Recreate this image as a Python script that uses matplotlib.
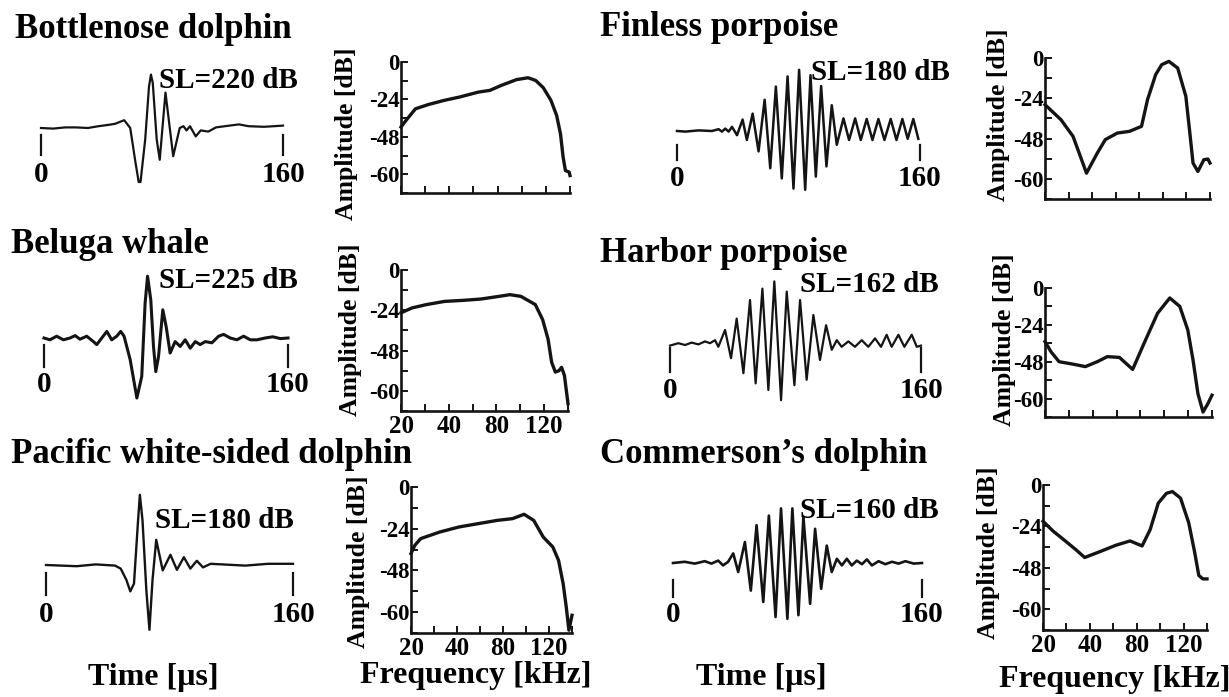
import numpy as np
import matplotlib
matplotlib.use("Agg")
import matplotlib.pyplot as plt
from matplotlib.ticker import FixedLocator, FuncFormatter

plt.rcParams["font.family"] = ["Liberation Serif", "DejaVu Serif"]
plt.rcParams["font.weight"] = "bold"
plt.rcParams["axes.unicode_minus"] = False

# ---------------------------------------------------------------- data
species = ["Bottlenose dolphin", "Beluga whale", "Pacific white-sided dolphin",
           "Finless porpoise", "Harbor porpoise", "Commerson\u2019s dolphin"]
source_levels = [220, 225, 180, 180, 162, 160]   # dB

# click waveforms: time [us], relative pressure
bottlenose_t = [0, 8, 16, 23, 31, 38, 44, 49, 55, 59, 62.5, 64.6, 65.8, 68.9, 71.4, 72.7,
                73.9, 76.5, 78.5, 82.3, 87.4, 91.7, 94.2, 96.2, 98.5, 102.3, 105.6, 110.6,
                115.7, 124.6, 130.9, 137.2, 147.4, 154, 160]
bottlenose_amp = [0, -0.01, 0.01, 0.01, 0, 0.03, 0.05, 0.07, 0.13, 0, -0.58, -0.9, -0.9,
                  -0.19, 0.69, 0.89, 0.75, -0.19, -0.53, 0.59, -0.47, 0, 0.03, -0.04, 0.03,
                  -0.14, -0.04, -0.06, 0.01, 0.04, 0.06, 0.03, 0.02, 0.03, 0.04]

beluga_t = [0, 3.9, 8.3, 12.7, 17.1, 20.4, 23.6, 28.0, 32.4, 34.6, 37.9, 41.2, 44.4, 47.7,
            50.3, 52.5, 56.5, 60.9, 64.1, 66.3, 67.9, 70.0, 71.8, 73.3, 75.1, 77.9, 80.1,
            82.7, 86.0, 89.3, 92.6, 95.9, 99.2, 102.4, 105.7, 110.1, 114.5, 117.8, 122.1,
            126.5, 130.9, 135.3, 139.7, 145, 150, 155, 160]
beluga_amp = [0, -0.03, 0.03, -0.03, 0, 0.04, -0.02, 0.03, -0.06, -0.11, 0, 0.11, -0.03,
              0.03, 0.11, 0.03, -0.36, -1.0, -0.64, 0.58, 1.03, 0.64, -0.14, -0.56, -0.31,
              0.47, 0.19, -0.25, -0.06, -0.14, -0.03, -0.17, -0.06, -0.11, -0.06, -0.08,
              0.03, 0.06, 0, -0.03, 0.03, -0.03, -0.03, 0, 0.02, -0.01, 0]

pacific_t = [0, 19.8, 32.2, 44.7, 48.4, 52.1, 54.6, 57.0, 59.5, 60.8, 62.5, 65.0, 67.0,
             69.0, 71.4, 75.6, 80.6, 84.8, 89.3, 93.5, 97.7, 101.7, 106.6, 114.1, 129.0,
             143.9, 160]
pacific_amp = [0, -0.02, 0.01, -0.01, -0.06, -0.25, -0.44, -0.31, 0.69, 1.17, 0.75, -0.42,
               -1.08, -0.25, 0.42, -0.09, 0.17, -0.08, 0.13, -0.06, 0.07, -0.04, 0.02,
               0.01, -0.01, 0.02, 0.02]

finless_t = [0, 5.5, 14.2, 23.0, 27.4, 29.6, 31.8, 34.0, 36.2, 39.5, 43.2, 46.0, 49.8,
             53.7, 57.7, 61.4, 65.1, 69.0, 72.8, 76.7, 80.4, 84.4, 87.9, 91.4, 94.9, 98.4,
             101.9, 105.2, 109.6, 113.3, 117.3, 121.0, 124.9, 128.7, 132.6, 136.6, 140.7,
             144.5, 148.4, 151.9, 155.6, 158.9]
finless_amp = [0, -0.01, 0.01, 0, 0.03, -0.01, 0.04, -0.01, 0.07, -0.07, 0.19, -0.15, 0.29,
               -0.34, 0.52, -0.62, 0.74, -0.79, 0.91, -0.96, 1.02, -0.98, 0.93, -0.76, 0.75,
               -0.59, 0.43, -0.23, 0.21, -0.15, 0.21, -0.15, 0.2, -0.15, 0.2, -0.15, 0.2,
               -0.15, 0.2, -0.13, 0.2, -0.13]

harbor_t = [0, 5.3, 9.6, 13.8, 18.1, 22.3, 25.5, 28.7, 30.8, 35.1, 38.9, 42.5, 46.8, 51.0,
            54.6, 58.9, 62.7, 66.5, 70.8, 74.4, 79.3, 82.9, 87.1, 91.4, 95.6, 99.5, 103.1,
            106.3, 109.4, 113.7, 117.9, 122.2, 126.4, 130.7, 134.5, 138.1, 141.3, 145.6,
            149.4, 154.1, 157.3, 160]
harbor_amp = [-0.01, 0.03, 0, 0.04, 0.01, 0.06, 0.03, 0.08, -0.03, 0.25, -0.22, 0.44,
              -0.47, 0.75, -0.64, 0.94, -0.75, 1.06, -0.92, 0.89, -0.67, 0.75, -0.58, 0.5,
              -0.25, 0.33, -0.08, 0.08, -0.03, 0.06, -0.03, 0.08, -0.03, 0.11, -0.03, 0.17,
              -0.03, 0.17, -0.03, 0.17, -0.03, -0.01]

commerson_t = [0, 7.5, 14.0, 20.4, 24.7, 29.0, 32.2, 35.4, 38.7, 41.9, 46.2, 50.0, 53.7,
               58.0, 61.6, 65.9, 69.4, 73.5, 76.7, 80.6, 83.8, 88.1, 91.3, 95.2, 98.8,
               102.0, 105.3, 108.5, 111.7, 114.9, 118.1, 121.4, 124.6, 127.8, 132.1, 136.4,
               140.7, 145.0, 149.3, 154.7, 160]
commerson_amp = [0, 0.02, -0.01, 0.03, -0.01, 0.04, -0.04, 0.02, 0.16, -0.15, 0.35, -0.46,
                 0.63, -0.65, 0.79, -0.9, 0.91, -0.93, 0.91, -0.87, 0.77, -0.68, 0.57,
                 -0.43, 0.29, -0.15, 0.07, -0.04, 0.07, -0.04, 0.04, -0.02, 0.06, -0.04,
                 0.03, -0.02, 0.02, -0.01, 0.03, -0.01, 0]

# power spectra: frequency [kHz], amplitude [dB]
bottlenose_khz = [20, 22.1, 26.0, 31.5, 37.9, 48.3, 64.1, 73.6, 83.1, 95.7, 105.2, 111.5,
                  117.9, 124.2, 128.9, 132.1, 134.3, 136.2, 139.3, 140]
bottlenose_db = [-41.7, -37.4, -30.0, -27.2, -24.6, -22.5, -19.3, -18.2, -15.0, -11.3,
                 -10.1, -11.8, -16.5, -24.6, -34.2, -46.0, -54.5, -58.8, -59.3, -60.4]

beluga_khz = [20, 24.6, 30.7, 38.3, 51.8, 67.0, 82.2, 91.3, 100.5, 112.6, 118.7, 123.3,
              126.3, 129.4, 132.4, 134.6, 137.0, 139.1, 140]
beluga_db = [-25.5, -22.6, -20.6, -18.7, -18.1, -17.3, -15.7, -14.7, -15.7, -20.6, -29.5,
             -41.2, -51.5, -54.4, -54.0, -53.0, -55.4, -61.3, -63.8]

pacific_khz = [20, 21.7, 24.2, 32.5, 41.7, 58.3, 75.0, 88.3, 98.3, 106.7, 115.0, 123.3,
               128.3, 132.3, 135.0, 137.3, 140]
pacific_db = [-38.3, -33.5, -29.7, -25.9, -23.0, -21.1, -19.2, -18.2, -15.7, -19.2, -28.8,
              -34.5, -42.2, -51.8, -58.5, -65.2, -60.9]

finless_khz = [20, 26.8, 31.9, 37.6, 44.4, 51.2, 61.4, 71.7, 81.9, 87.0, 93.9, 99.0, 105.1,
               112.6, 119.5, 122.9, 125.6, 129.7, 134.8, 138.2, 140]
finless_db = [-27.8, -36.8, -46.7, -58.3, -52.3, -48.3, -44.7, -43.7, -40.7, -24.8, -9.9,
              -4.0, -2.0, -6.0, -22.8, -44.7, -55.3, -57.8, -54.3, -54.1, -55.3]

harbor_khz = [20, 22.5, 25.9, 31.8, 36.9, 43.8, 52.3, 62.4, 73.5, 84.3, 94.4, 104.6, 113.0,
              119.7, 124.1, 128.2, 132.5, 136.6, 140]
harbor_db = [-34.9, -41.5, -48.0, -48.8, -49.6, -48.0, -44.7, -45.2, -50.5, -33.8, -16.4,
             -6.5, -12.0, -27.3, -46.9, -58.4, -64.4, -61.6, -58.9]

commerson_khz = [20, 24.3, 29.5, 33.8, 37.8, 50.1, 62.2, 74.3, 84.6, 91.5, 98.4, 105.4,
                 110.5, 117.4, 124.4, 129.5, 133.0, 136.4, 140]
commerson_db = [-21.0, -26.7, -32.4, -37.2, -42.0, -38.2, -34.9, -32.4, -35.3, -25.8, -10.5,
                -4.8, -3.8, -7.6, -21.9, -39.1, -50.2, -51.2, -51.2]

# axis ticks
time_ticks = [0, 160]
freq_ticks = [20, 40, 80, 120]
freq_minor = [30, 60, 100, 140]
db_ticks = [0, -24, -48, -60]
db_minor = [-12, -36, -54, -66]

waves = [(bottlenose_t, bottlenose_amp), (beluga_t, beluga_amp), (pacific_t, pacific_amp),
         (finless_t, finless_amp), (harbor_t, harbor_amp), (commerson_t, commerson_amp)]
spectra = [(bottlenose_khz, bottlenose_db), (beluga_khz, beluga_db),
           (pacific_khz, pacific_db), (finless_khz, finless_db),
           (harbor_khz, harbor_db), (commerson_khz, commerson_db)]

# ---------------------------------------------------------------- layout (pixels)
W, H = 1229, 697
INK = "#141414"

layout = [
    # title (x, baseline), SL (x, baseline), wave (x0, x160, baseline), tick (top, bottom),
    # label drop, spectrum box (l, t, r, b), ylabel centre, show freq labels
    dict(title=(15, 38), sl=(159, 88), wave=(41, 283, 128), tick=(-0.12, -0.45), drop=46,
         spec=(401, 62, 570, 193), ylab=(346, 134), xlab=False, lw=1.6),
    dict(title=(11, 253), sl=(159, 288), wave=(44, 288, 338), tick=(-0.12, -0.48), drop=47,
         spec=(401, 270, 568, 411), ylab=(351, 330), xlab=True, lw=2.2),
    dict(title=(11, 463), sl=(155, 528), wave=(46, 293, 565), tick=(-0.13, -0.5), drop=50,
         spec=(411, 487, 572, 633), ylab=(359, 562), xlab=True, lw=1.7),
    dict(title=(600, 36), sl=(811, 80), wave=(677, 920, 131), tick=(-0.23, -0.48), drop=47,
         spec=(1045, 58, 1210, 199), ylab=(998, 115), xlab=False, lw=1.8),
    dict(title=(600, 262), sl=(800, 292), wave=(670, 921, 345), tick=(-0.05, -0.45), drop=45,
         spec=(1045, 288, 1212, 417), ylab=(1004, 340), xlab=False, lw=1.6),
    dict(title=(600, 463), sl=(800, 518), wave=(673, 922, 563), tick=(-0.28, -0.57), drop=52,
         spec=(1043, 485, 1207, 630), ylab=(989, 553), xlab=True, lw=1.9),
]


def px_rect(l, t, r, b):
    return [l / W, 1 - b / H, (r - l) / W, (b - t) / H]


def fig_xy(x, y):
    return x / W, 1 - y / H


def piecewise(xp, fp):
    xp = np.asarray(xp, float)
    fp = np.asarray(fp, float)

    def f(v):
        v = np.asarray(v, float)
        out = np.interp(v, xp, fp)
        lo_slope = (fp[1] - fp[0]) / (xp[1] - xp[0])
        hi_slope = (fp[-1] - fp[-2]) / (xp[-1] - xp[-2])
        out = np.where(v < xp[0], fp[0] + (v - xp[0]) * lo_slope, out)
        out = np.where(v > xp[-1], fp[-1] + (v - xp[-1]) * hi_slope, out)
        return out
    return f


# frequency axis: labelled ticks are evenly spaced two minor steps apart
khz_knots, khz_pos = [20, 40, 80, 120, 140], [0, 2, 4, 6, 7]
db_knots, db_pos = [-66, -60, -48, -24, 0], [0, 1, 3, 5, 7]
fx, fx_inv = piecewise(khz_knots, khz_pos), piecewise(khz_pos, khz_knots)
fy, fy_inv = piecewise(db_knots, db_pos), piecewise(db_pos, db_knots)

fig = plt.figure(figsize=(W / 100, H / 100), dpi=100)
fig.patch.set_facecolor("white")

for i, lay in enumerate(layout):
    # title and source level
    fig.text(*fig_xy(*lay["title"]), species[i], fontsize=25, fontweight="bold",
             ha="left", va="baseline")
    fig.text(*fig_xy(*lay["sl"]), f"SL={source_levels[i]} dB", fontsize=21,
             fontweight="bold", ha="left", va="baseline")

    # waveform
    x0, x160, base = lay["wave"]
    axw = fig.add_axes(px_rect(x0, base - 75, x160, base + 75))
    axw.set_xlim(time_ticks[0], time_ticks[-1])
    axw.set_ylim(-1.25, 1.25)
    axw.axis("off")
    t, amp = waves[i]
    axw.plot(t, amp, color=INK, lw=lay["lw"], clip_on=False, solid_joinstyle="round")
    top, bot = lay["tick"]
    for tt in time_ticks:
        axw.plot([tt, tt], [top, bot], color=INK, lw=1.6, clip_on=False)
        axw.text(tt, -lay["drop"] / 60, f"{tt:g}", fontsize=21, fontweight="bold",
                 ha="center", va="center", clip_on=False)

    # spectrum
    axs = fig.add_axes(px_rect(*lay["spec"]))
    axs.set_xscale("function", functions=(fx, fx_inv))
    axs.set_yscale("function", functions=(fy, fy_inv))
    axs.set_xlim(khz_knots[0], khz_knots[-1])
    axs.set_ylim(db_knots[0], db_knots[-1])
    khz, db = spectra[i]
    axs.plot(khz, db, color=INK, lw=2.4, clip_on=False, solid_joinstyle="round")
    for side in ("top", "right"):
        axs.spines[side].set_visible(False)
    for side in ("left", "bottom"):
        axs.spines[side].set_linewidth(1.9)
        axs.spines[side].set_color(INK)
    axs.xaxis.set_major_locator(FixedLocator(freq_ticks))
    axs.xaxis.set_minor_locator(FixedLocator(freq_minor))
    axs.yaxis.set_major_locator(FixedLocator(db_ticks))
    axs.yaxis.set_minor_locator(FixedLocator(db_minor))
    fmt = FuncFormatter(lambda v, p: f"{v:g}")
    axs.xaxis.set_major_formatter(fmt)
    axs.yaxis.set_major_formatter(fmt)
    axs.tick_params(which="both", direction="in", length=5, width=1.4, color=INK)
    axs.tick_params(axis="y", labelsize=16.5, pad=1)
    axs.tick_params(axis="x", labelsize=18, pad=3, labelbottom=lay["xlab"])
    for lbl in axs.get_xticklabels() + axs.get_yticklabels():
        lbl.set_fontweight("bold")
    axs.set_facecolor("none")
    fig.text(*fig_xy(*lay["ylab"]), "Amplitude [dB]", rotation=90, fontsize=18.5,
             fontweight="bold", ha="center", va="center")

# bottom axis titles
for (x, y), txt in [((153, 677), "Time [\u03bcs]"), ((476, 675), "Frequency [kHz]"),
                    ((761, 677), "Time [\u03bcs]"), ((1115, 680), "Frequency [kHz]")]:
    fig.text(*fig_xy(x, y), txt, fontsize=23, fontweight="bold", ha="center", va="center")

fig.savefig("out.png", dpi=100, facecolor="white")
